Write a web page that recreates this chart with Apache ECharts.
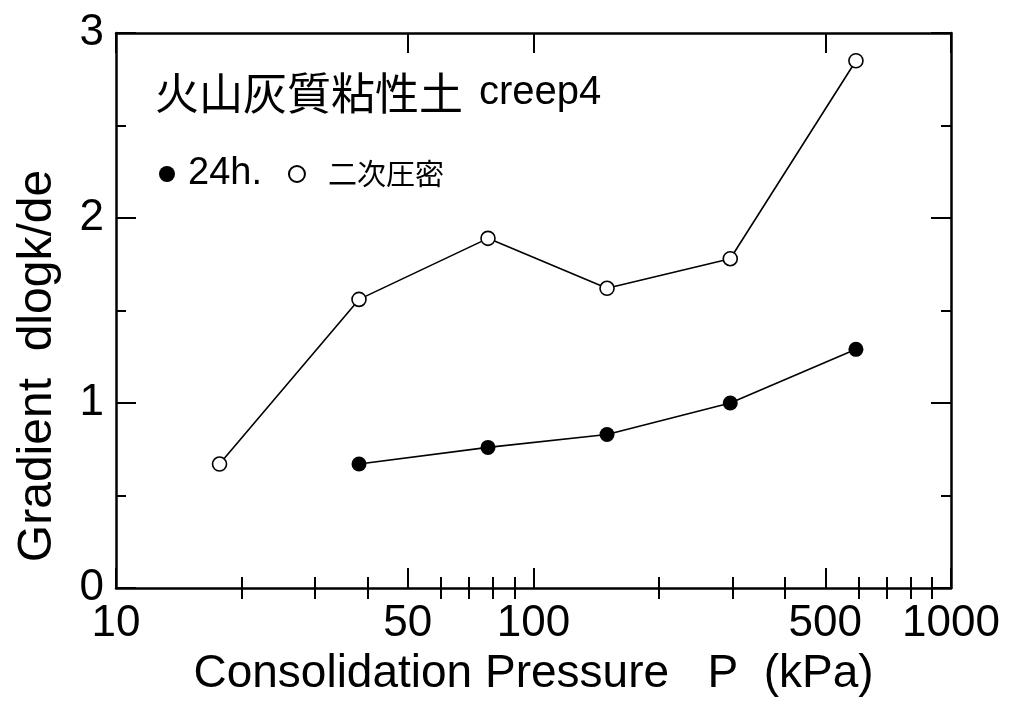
<!DOCTYPE html>
<html><head><meta charset="utf-8">
<script src="https://cdn.jsdelivr.net/npm/echarts@6/dist/echarts.min.js"></script>
<style>html,body{margin:0;padding:0;background:#fff}#c{width:1010px;height:706px}</style>
</head><body><div id="c"></div>
<script>
const titleCJK = '火山灰質粘性土';
const titleLatin = 'creep4';
const seriesFilledName = '24h.';
const seriesOpenName = '二次圧密';
const openX = [17.7, 38.2, 77.8, 150, 296, 592];
const openY = [0.67, 1.56, 1.89, 1.62, 1.78, 2.85];
const filledX = [38.2, 77.8, 150, 296, 592];
const filledY = [0.67, 0.76, 0.83, 1.00, 1.29];
const xMajorTicks = [10, 50, 100, 500, 1000];
const xMinorTicks = [20, 30, 40, 60, 70, 80, 90, 200, 300, 400, 600, 700, 800, 900];
const xName = 'Consolidation Pressure   P  (kPa)';
const yName = 'Gradient  dlogk/de';

const LAT = '"Liberation Sans", Arial, Helvetica, sans-serif';
const CJK = '"Noto Sans CJK JP", sans-serif';
const lineW = 2.5;

function pairs(xs, ys) { return xs.map((x, i) => [x, ys[i]]); }

function xAx(opts) {
  return Object.assign({
    type: 'log', logBase: 10, min: 10, max: 1000, gridIndex: 0,
    axisLine: { show: true, onZero: false, lineStyle: { color: '#000', width: lineW } },
    splitLine: { show: false }, axisLabel: { show: false }, minorTick: { show: false }
  }, opts);
}
function yAx(opts) {
  return Object.assign({
    type: 'value', min: 0, max: 3, interval: 1,
    axisLine: { show: true, onZero: false, lineStyle: { color: '#000', width: lineW } },
    axisTick: { show: true, inside: true, length: 20, lineStyle: { color: '#000', width: 2 } },
    minorTick: { show: true, splitNumber: 2, length: 10, lineStyle: { color: '#000', width: 2 } },
    splitLine: { show: false }, minorSplitLine: { show: false }, axisLabel: { show: false }
  }, opts);
}

const chart = echarts.init(document.getElementById('c'), null, { renderer: 'canvas' });
chart.setOption({
  backgroundColor: '#fff',
  animation: false,
  title: {
    left: 150, top: 66,
    text: '{a|' + titleCJK + '}{b|' + titleLatin + '}',
    textStyle: { fontWeight: 'normal', rich: {
      a: { fontFamily: CJK, fontSize: 44, fontWeight: 'normal', color: '#000' },
      b: { fontFamily: LAT, fontSize: 40, fontWeight: 'normal', color: '#000', padding: [0, 0, 0, 16] }
    } }
  },
  legend: {
    left: 154, top: 150, orient: 'horizontal', itemGap: 26,
    itemWidth: 16, itemHeight: 16, selectedMode: false,
    data: [
      { name: seriesFilledName, icon: 'circle', textStyle: { fontFamily: LAT, fontSize: 38, color: '#000', padding: [0, 0, 0, 8] } },
      { name: seriesOpenName, icon: 'circle', textStyle: { fontFamily: CJK, fontSize: 29, color: '#000', padding: [4, 0, 0, 18] } }
    ]
  },
  grid: { left: 116, right: 59, top: 33, bottom: 118, containLabel: false },
  xAxis: [
    xAx({ position: 'bottom',
      name: xName, nameLocation: 'middle', nameGap: 60,
      nameTextStyle: { fontFamily: LAT, fontSize: 46, color: '#000' },
      axisTick: { show: true, inside: true, length: 20, customValues: xMajorTicks, lineStyle: { color: '#000', width: 2 } },
      axisLabel: { show: true, customValues: xMajorTicks, margin: 14, fontFamily: LAT, fontSize: 44, color: '#000',
        showMinLabel: true, showMaxLabel: true, formatter: v => String(Math.round(v)) }
    }),
    xAx({ position: 'bottom', axisLine: { show: false },
      axisTick: { show: true, inside: true, length: 11, customValues: xMinorTicks, lineStyle: { color: '#000', width: 2 } } }),
    xAx({ position: 'top',
      axisTick: { show: true, inside: true, length: 20, customValues: xMajorTicks, lineStyle: { color: '#000', width: 2 } } }),
    xAx({ position: 'top', axisLine: { show: false },
      axisTick: { show: true, inside: true, length: 11, customValues: xMinorTicks, lineStyle: { color: '#000', width: 2 } } })
  ],
  yAxis: [
    yAx({ position: 'left',
      axisLabel: { show: true, margin: 12, fontFamily: LAT, fontSize: 44, color: '#000' } }),
    yAx({ position: 'right' })
  ],
  graphic: [{
    type: 'text', x: 38, y: 366, rotation: Math.PI / 2,
    style: { text: yName, fontFamily: LAT, fontSize: 48, fill: '#000', align: 'center', verticalAlign: 'middle' }
  }],
  series: [
    {
      name: seriesOpenName, type: 'line', xAxisIndex: 0, yAxisIndex: 0,
      data: pairs(openX, openY), symbol: 'circle', symbolSize: 14,
      lineStyle: { color: '#000', width: 1.6 },
      itemStyle: { color: '#fff', borderColor: '#000', borderWidth: 1.6 },
      z: 3
    },
    {
      name: seriesFilledName, type: 'line', xAxisIndex: 0, yAxisIndex: 0,
      data: pairs(filledX, filledY), symbol: 'circle', symbolSize: 15,
      lineStyle: { color: '#000', width: 1.6 },
      itemStyle: { color: '#000', borderColor: '#000', borderWidth: 0 },
      z: 3
    }
  ]
});
</script></body></html>
